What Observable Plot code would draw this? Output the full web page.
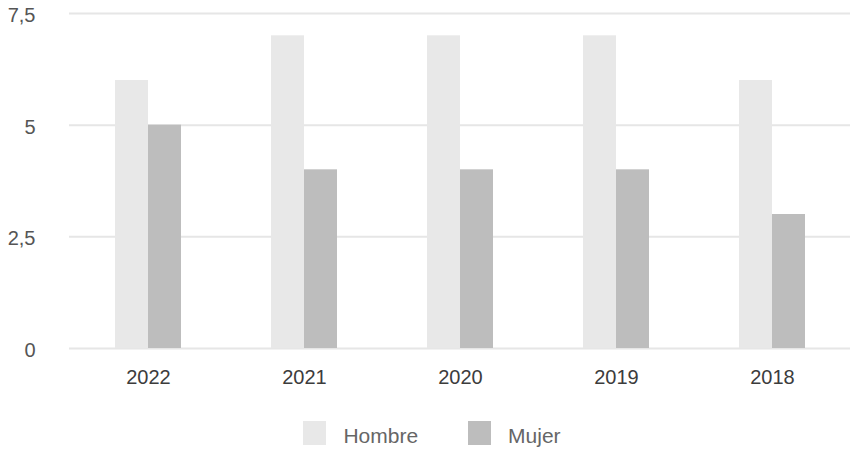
<!DOCTYPE html>
<html>
<head>
<meta charset="utf-8">
<script src="https://cdn.jsdelivr.net/npm/d3@7"></script>
<script src="https://cdn.jsdelivr.net/npm/@observablehq/plot@0.6"></script>
<style>
  body { margin: 0; background: #fff; font-family: "Liberation Sans", Arial, sans-serif; }
  #legend { display: flex; justify-content: center; align-items: center; height: 52px; margin-top: 10px; font-size: 21px; color: #666; }
  .item { display: flex; align-items: center; margin: 0 25px; }
  .sw { width: 23px; height: 24px; margin-right: 17px; position: relative; top: -3px; }
</style>
</head>
<body>
<div id="chart"></div>
<div id="legend"></div>
<script>
const years = ["2022", "2021", "2020", "2019", "2018"];
const hombre = [6, 7, 7, 7, 6];
const mujer = [5, 4, 4, 4, 3];
const series = ["Hombre", "Mujer"];
const colors = ["#e8e8e8", "#bdbdbd"];
const yTicks = [0, 2.5, 5, 7.5];

const hData = years.map((y, i) => ({year: y, value: hombre[i]}));
const mData = years.map((y, i) => ({year: y, value: mujer[i]}));

const chart = Plot.plot({
  width: 864,
  height: 400,
  marginTop: 13,
  marginBottom: 52,
  marginLeft: 69,
  marginRight: 14,
  style: {fontFamily: "'Liberation Sans', Arial, sans-serif", background: "#fff"},
  x: {domain: years, paddingInner: 0.5775, paddingOuter: 0.28875},
  y: {domain: [0, 7.5]},
  marks: [
    Plot.gridY(yTicks, {stroke: "#e6e6e6", strokeWidth: 2, strokeOpacity: 1}),
    Plot.barY(hData, {x: "year", y: "value", fill: colors[0], insetRight: 33}),
    Plot.barY(mData, {x: "year", y: "value", fill: colors[1], insetLeft: 33}),
    Plot.axisY(yTicks, {tickSize: 0, tickPadding: 34, dy: 2, fontSize: 20, fill: "#555", tickFormat: d => String(d).replace(".", ","), label: null}),
    Plot.axisX({tickSize: 0, tickPadding: 21, fontSize: 20, fill: "#3c3c3c", stroke: "#3c3c3c", strokeWidth: 0.3, label: null})
  ]
});
document.getElementById("chart").appendChild(chart);

const legend = document.getElementById("legend");
series.forEach((s, i) => {
  const item = document.createElement("div");
  item.className = "item";
  const sw = document.createElement("span");
  sw.className = "sw";
  sw.style.background = colors[i];
  const t = document.createElement("span");
  t.textContent = s;
  item.appendChild(sw);
  item.appendChild(t);
  legend.appendChild(item);
});
</script>
</body>
</html>
